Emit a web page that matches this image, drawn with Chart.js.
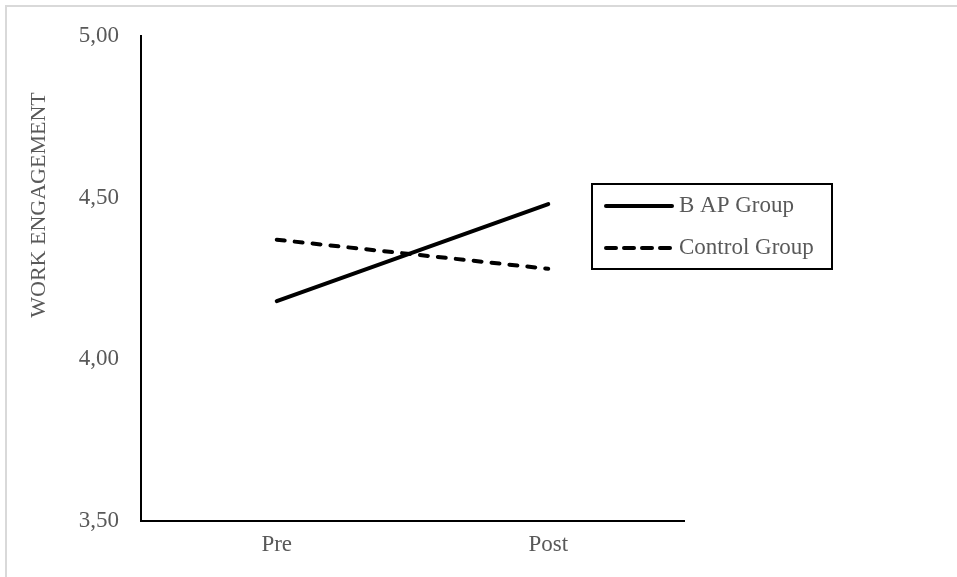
<!DOCTYPE html>
<html>
<head>
<meta charset="utf-8">
<script src="https://cdn.jsdelivr.net/npm/chart.js@4.4.1/dist/chart.umd.min.js"></script>
<style>
  html, body { margin: 0; padding: 0; background: #fff; }
  #wrap { position: relative; width: 957px; height: 577px; }
  #frame { position: absolute; left: 5px; top: 5px; width: 952px; height: 572px;
           border-left: 2px solid #d9d9d9; border-top: 2px solid #d9d9d9; box-sizing: border-box; }
  canvas { position: absolute; left: 0; top: 0; }
</style>
</head>
<body>
<div id="wrap">
  <div id="frame"></div>
  <canvas id="chart" width="957" height="577"></canvas>
</div>
<script>
const categories = ['Pre', 'Post'];
const bapGroup = [4.18, 4.48];
const controlGroup = [4.37, 4.28];
const yTicks = [3.5, 4.0, 4.5, 5.0];
const yTitle = 'WORK ENGAGEMENT';

const FONT = '"Liberation Serif", "Times New Roman", serif';
const GREY = '#595959';

// legend box + rotated axis title, drawn by hand (placed like the original)
const extras = {
  id: 'extras',
  afterDraw(chart) {
    const ctx = chart.ctx;
    ctx.save();
    // axis title
    ctx.translate(39, 205);
    ctx.rotate(-Math.PI / 2);
    ctx.font = '22px ' + FONT;
    ctx.fillStyle = GREY;
    ctx.textAlign = 'center';
    ctx.textBaseline = 'middle';
    ctx.fillText(yTitle, 0, 0);
    ctx.restore();

    // legend
    ctx.save();
    ctx.strokeStyle = '#000';
    ctx.lineWidth = 2;
    ctx.strokeRect(592, 184, 240, 85);
    chart.data.datasets.forEach((ds, i) => {
      const y = 206 + i * 42;
      ctx.beginPath();
      ctx.lineWidth = 4;
      ctx.lineCap = 'round';
      ctx.setLineDash(ds.borderDash ? [10, 8] : []);
      ctx.moveTo(606, y);
      ctx.lineTo(672, y);
      ctx.stroke();
      ctx.setLineDash([]);
      ctx.font = '23px ' + FONT;
      ctx.fillStyle = GREY;
      ctx.textBaseline = 'middle';
      ctx.fillText(ds.label, 679, y);
    });
    ctx.restore();
  }
};

new Chart(document.getElementById('chart'), {
  type: 'line',
  data: {
    labels: categories,
    datasets: [
      { label: 'B AP Group', data: bapGroup, borderColor: '#000', borderWidth: 4,
        borderCapStyle: 'round', pointRadius: 0, tension: 0 },
      { label: 'Control Group', data: controlGroup, borderColor: '#000', borderWidth: 4,
        borderCapStyle: 'round', borderDash: [8, 10], pointRadius: 0, tension: 0 }
    ]
  },
  options: {
    responsive: false,
    animation: false,
    layout: { padding: { left: 0, top: 36, right: 273, bottom: 0 } },
    plugins: { legend: { display: false }, tooltip: { enabled: false } },
    scales: {
      x: {
        offset: true,
        afterFit: s => { s.height = 56; },
        grid: { display: false, drawTicks: false },
        border: { color: '#000', width: 2 },
        ticks: { color: GREY, font: { family: FONT, size: 23 }, padding: 10 }
      },
      y: {
        min: 3.5, max: 5,
        afterBuildTicks: s => { s.ticks = yTicks.map(v => ({ value: v })); },
        afterFit: s => { s.width = 141; },
        grid: { display: false, drawTicks: false },
        border: { color: '#000', width: 2 },
        ticks: { color: GREY, font: { family: FONT, size: 23 }, padding: 22,
                 callback: v => v.toFixed(2).replace('.', ',') }
      }
    }
  },
  plugins: [extras]
});
</script>
</body>
</html>
